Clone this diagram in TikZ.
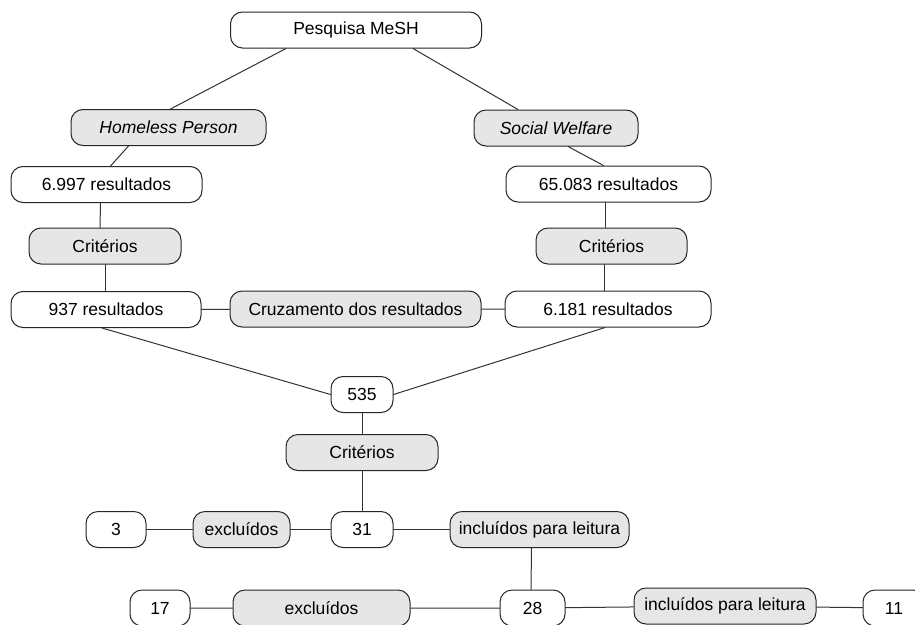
\documentclass[tikz,border=0pt]{standalone}
\usepackage{fontspec}
\setmainfont{Liberation Sans}
\definecolor{flowFill}{HTML}{E6E6E6}
\definecolor{flowEdge}{HTML}{262626}
\definecolor{flowLine}{HTML}{333333}

\begin{document}
\begin{tikzpicture}[x=1pt,y=-1pt,line cap=round,line join=round]
\useasboundingbox[fill=white] (0,0) rectangle (915,624);
\tikzset{box/.style={draw=flowEdge,fill=white,line width=1pt,rounded corners=12pt,minimum height=36pt,inner sep=0pt,font=\fontsize{17.5}{20}\selectfont},gbox/.style={box,fill=flowFill},link/.style={draw=flowLine,line width=1pt}}
% topo
\node[box,minimum width=251pt] (pesq) at (356,30) {Pesquisa MeSH};
\node[gbox,minimum width=195pt] (hom) at (168.5,127.5) {\itshape Homeless Person};
\node[gbox,minimum width=164pt] (soc) at (556,128) {\itshape Social Welfare};
\node[box,minimum width=191pt] (res1) at (106.5,184.5) {6.997 resultados};
\node[box,minimum width=205pt] (res2) at (608.5,184) {65.083 resultados};
\node[gbox,minimum width=152pt] (crit1) at (105,246) {Critérios};
\node[gbox,minimum width=151pt] (crit2) at (611.5,246) {Critérios};
\node[box,minimum width=190pt] (res3) at (106,309.5) {937 resultados};
\node[gbox,minimum width=251pt] (cruz) at (355.5,309) {Cruzamento dos resultados};
\node[box,minimum width=206pt] (res4) at (608,309) {6.181 resultados};
% meio
\node[box,minimum width=62pt] (n535) at (362,394.5) {535};
\node[gbox,minimum width=152pt] (crit3) at (362,452.5) {Critérios};
\node[box,minimum width=60pt] (n3) at (116,529.5) {3};
\node[gbox,minimum width=97pt] (excl1) at (241.5,529.5) {excluídos};
\node[box,minimum width=62pt] (n31) at (362,529.5) {31};
\node[gbox,minimum width=179pt] (incl1) at (539.5,529.5) {incluídos para leitura};
% base
\node[box,minimum width=60pt] (n17) at (160,608) {17};
\node[gbox,minimum width=177pt] (excl2) at (321.5,608) {excluídos};
\node[box,minimum width=65pt] (n28) at (532.5,608) {28};
\node[gbox,minimum width=182pt] (incl2) at (725,606) {incluídos para leitura};
\node[box,minimum width=62pt] (n11) at (894,608) {11};
% ligacoes
\draw[link] ([xshift=-70pt]pesq.south) -- ([xshift=2pt]hom.north);
\draw[link] ([xshift=57pt]pesq.south) -- ([xshift=-38pt]soc.north);
\draw[link] ([xshift=-40pt]hom.south) -- ([xshift=4pt]res1.north);
\draw[link] ([xshift=12pt]soc.south) -- ([xshift=-5pt]res2.north);
\draw[link] ([xshift=-6pt]res1.south) -- ([xshift=-5pt]crit1.north);
\draw[link] ([xshift=-3.5pt]res2.south) -- ([xshift=-6.5pt]crit2.north);
\draw[link] (crit1.south) -- ([xshift=-1pt]res3.north);
\draw[link] ([xshift=-7.5pt]crit2.south) -- ([xshift=-4pt]res4.north);
\draw[link] (res3) -- (cruz) -- (res4);
\draw[link] ([xshift=-4pt]res3.south) -- (n535.west);
\draw[link] ([xshift=-3pt]res4.south) -- (n535.east);
\draw[link] (n535) -- (crit3) -- (n31);
\draw[link] (n3) -- (excl1) -- (n31) -- (incl1);
\draw[link] ([xshift=-8pt]incl1.south) -- ([xshift=-1.5pt]n28.north);
\draw[link] (n17) -- (excl2) -- (n28) -- (incl2) -- (n11);
\end{tikzpicture}
\end{document}
